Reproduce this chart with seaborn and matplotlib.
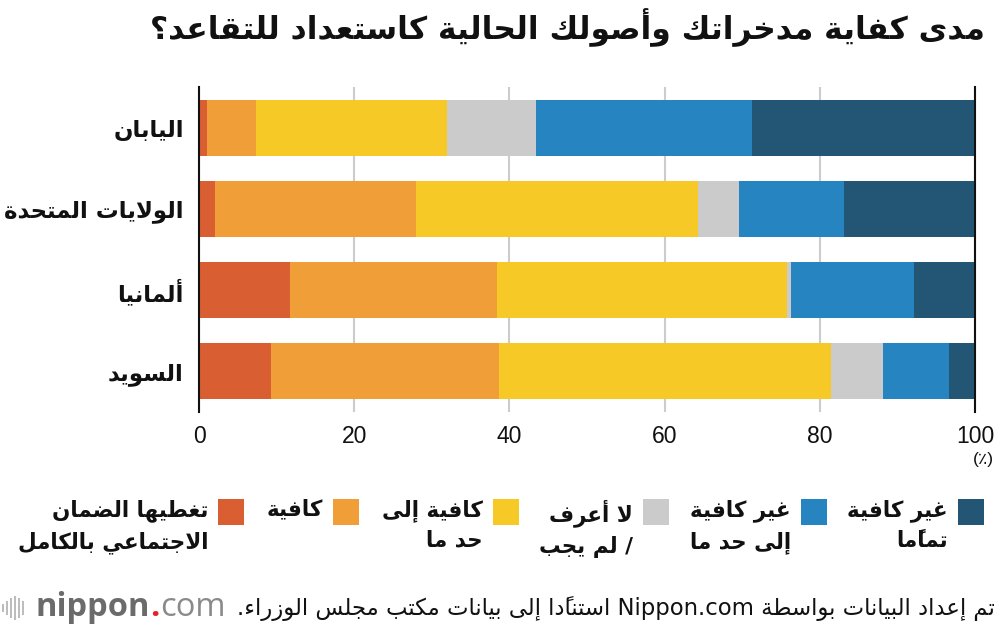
import re

import matplotlib
matplotlib.use("Agg")
import matplotlib.pyplot as plt
from matplotlib.patches import Rectangle
import pandas as pd
import seaborn as sns

# --- data (percent of respondents) ---------------------------------------
countries = ["اليابان", "الولايات المتحدة", "ألمانيا", "السويد"]
covered_by_pension = [1.0, 2.0, 11.7, 9.3]
sufficient = [6.3, 26.0, 26.7, 29.3]
somewhat_sufficient = [24.7, 36.3, 37.4, 42.9]
dont_know = [11.4, 5.3, 0.5, 6.7]
somewhat_insufficient = [27.9, 13.5, 15.8, 8.5]
not_sufficient = [28.7, 16.9, 7.9, 3.3]

series_labels = [
    "تغطيها الضمان\nالاجتماعي بالكامل",
    "كافية",
    "كافية إلى\nحد ما",
    "لا أعرف\n/ لم يجب",
    "غير كافية\nإلى حد ما",
    "غير كافية\nتمامًا",
]
series_colors = ["#d95f32", "#f09e38", "#f7c926", "#cbcbcb", "#2685c1", "#235675"]
x_ticks = [0, 20, 40, 60, 80, 100]

TITLE = "مدى كفاية مدخراتك وأصولك الحالية كاستعداد للتقاعد؟"
SOURCE = "تم إعداد البيانات بواسطة Nippon.com استنادًا إلى بيانات مكتب مجلس الوزراء."

# --- minimal arabic shaping (matplotlib has no complex text layout) ------
_FORMS = [
    ("ء", 0xFE80, 0), ("آ", 0xFE81, 1), ("أ", 0xFE83, 1), ("ؤ", 0xFE85, 1),
    ("إ", 0xFE87, 1), ("ئ", 0xFE89, 2), ("ا", 0xFE8D, 1), ("ب", 0xFE8F, 2),
    ("ة", 0xFE93, 1), ("ت", 0xFE95, 2), ("ث", 0xFE99, 2), ("ج", 0xFE9D, 2),
    ("ح", 0xFEA1, 2), ("خ", 0xFEA5, 2), ("د", 0xFEA9, 1), ("ذ", 0xFEAB, 1),
    ("ر", 0xFEAD, 1), ("ز", 0xFEAF, 1), ("س", 0xFEB1, 2), ("ش", 0xFEB5, 2),
    ("ص", 0xFEB9, 2), ("ض", 0xFEBD, 2), ("ط", 0xFEC1, 2), ("ظ", 0xFEC5, 2),
    ("ع", 0xFEC9, 2), ("غ", 0xFECD, 2), ("ف", 0xFED1, 2), ("ق", 0xFED5, 2),
    ("ك", 0xFED9, 2), ("ل", 0xFEDD, 2), ("م", 0xFEE1, 2), ("ن", 0xFEE5, 2),
    ("ه", 0xFEE9, 2), ("و", 0xFEED, 1), ("ى", 0xFEEF, 1), ("ي", 0xFEF1, 2),
]
FORMS = {c: (base, kind) for c, base, kind in _FORMS}
LAM_ALEF = {"آ": 0xFEF5, "أ": 0xFEF7, "إ": 0xFEF9, "ا": 0xFEFB}


def _is_mark(c):
    return "\u064b" <= c <= "\u0652"


def _shape_run(run):
    # tokens: [key, base_char, marks]
    tokens = []
    for c in run:
        if _is_mark(c) and tokens:
            tokens[-1][2] += c
            continue
        if c in LAM_ALEF and tokens and tokens[-1][1] == "ل" and not tokens[-1][2]:
            tokens[-1][0] = "LA"
            tokens[-1][1] = c
            continue
        tokens.append([c, c, ""])

    def kind(t):
        if t[0] == "LA":
            return 1
        return FORMS[t[0]][1] if t[0] in FORMS else None

    out = []
    for j, t in enumerate(tokens):
        k = kind(t)
        if k is None:
            out.append(t[1] + t[2])
            continue
        prev_join = j > 0 and kind(tokens[j - 1]) == 2 and k in (1, 2)
        next_join = k == 2 and j + 1 < len(tokens) and kind(tokens[j + 1]) in (1, 2)
        if t[0] == "LA":
            out.append(chr(LAM_ALEF[t[1]] + (1 if prev_join else 0)) + t[2])
            continue
        base = FORMS[t[0]][0]
        if k == 0:
            idx = 0
        elif prev_join and next_join:
            idx = 3
        elif prev_join:
            idx = 1
        elif next_join:
            idx = 2
        else:
            idx = 0
        out.append(chr(base + idx) + t[2])
    return out[::-1]


def ar(text):
    lines = []
    for line in text.split("\n"):
        parts = re.split(r"([A-Za-z0-9][A-Za-z0-9.]*[A-Za-z0-9])", line)
        visual = []
        for i, p in enumerate(parts):
            visual.append(p if i % 2 else "".join(_shape_run(p)))
        lines.append("".join(visual[::-1]))
    return "\n".join(lines)


# --- figure -------------------------------------------------------------
sns.set_theme(style="white")
plt.rcParams["font.family"] = ["DejaVu Sans"]

fig, ax = plt.subplots(figsize=(10, 6.3), dpi=100)
fig.subplots_adjust(left=0.199, right=0.975, top=0.862, bottom=0.346)

series = [covered_by_pension, sufficient, somewhat_sufficient,
          dont_know, somewhat_insufficient, not_sufficient]
labels_vis = [ar(c) for c in countries]
df = pd.DataFrame({"country": labels_vis})
left = [0.0] * len(countries)
for vals, color in zip(series, series_colors):
    sns.barplot(x=vals, y=df["country"], left=left, color=color, width=0.69,
                saturation=1, errorbar=None, linewidth=0, ax=ax)
    left = [a + b for a, b in zip(left, vals)]

ax.set_xlim(0, 100)
ax.set_ylim(3.5, -0.5)
ax.set_xticks(x_ticks)
ax.set_xticklabels([str(t) for t in x_ticks], family=["Liberation Sans", "DejaVu Sans"],
                   fontsize=16.5, color="#111111")
ax.set_yticklabels(labels_vis, fontsize=16.5, weight="bold", color="#111111")
ax.tick_params(axis="both", length=0)
ax.tick_params(axis="x", pad=9)
ax.tick_params(axis="y", pad=11)
ax.set_xlabel("")
ax.set_ylabel("")
ax.xaxis.grid(True, color="#cccccc", linewidth=1.5)
ax.yaxis.grid(False)
ax.set_axisbelow(True)
for side in ["top", "bottom"]:
    ax.spines[side].set_visible(False)
for side in ["left", "right"]:
    ax.spines[side].set_visible(True)
    ax.spines[side].set_color("#111111")
    ax.spines[side].set_linewidth(1.5)

ax.annotate("(٪)", xy=(100, 0), xycoords=("data", "axes fraction"),
            xytext=(6, -34), textcoords="offset points", ha="center", va="center",
            fontsize=12.5, family=["Liberation Sans", "DejaVu Sans"], color="#111111",
            annotation_clip=False)

# title
fig.text(0.985, 1 - 28 / 630, ar(TITLE), ha="right", va="center",
         fontsize=22.6, weight="bold", color="#111111")

# legend (right to left, swatch to the right of its label)
swatch_x = [218, 333, 493, 643, 801, 958]
for sx, label, color in zip(swatch_x, series_labels, series_colors):
    fig.add_artist(Rectangle((sx / 1000, 1 - 525 / 630), 26 / 1000, 26 / 630,
                             transform=fig.transFigure, color=color, lw=0))
    fig.text((sx - 10) / 1000, 1 - 499 / 630, ar(label), ha="right", va="top",
             multialignment="right", fontsize=15.5, weight="bold", color="#111111",
             linespacing=1.55)

# source line
fig.text(0.995, 1 - 609 / 630, ar(SOURCE), ha="right", va="center",
         fontsize=16.4, color="#111111")

# logo
for i, h in enumerate([8, 14, 20, 24, 20, 14]):
    fig.add_artist(Rectangle(((2 + i * 4) / 1000, 1 - (608 + h / 2) / 630),
                             2 / 1000, h / 630, transform=fig.transFigure,
                             color="#bdbdbd", lw=0))
t1 = fig.text(36 / 1000, 1 - 607 / 630, "nippon", ha="left", va="center",
              fontsize=23.5, weight="bold", color="#6b6b6b", family="Open Sans")
t2 = ax.annotate(".", xy=(1, 0), xycoords=t1, va="bottom", ha="left",
                 fontsize=23.5, weight="bold", color="#e8202a", family="Open Sans",
                 annotation_clip=False)
ax.annotate("com", xy=(1, 0), xycoords=t2, va="bottom", ha="left",
            fontsize=23.5, color="#8a8a8a", family="Open Sans", annotation_clip=False)

fig.savefig("out.png", dpi=100)
